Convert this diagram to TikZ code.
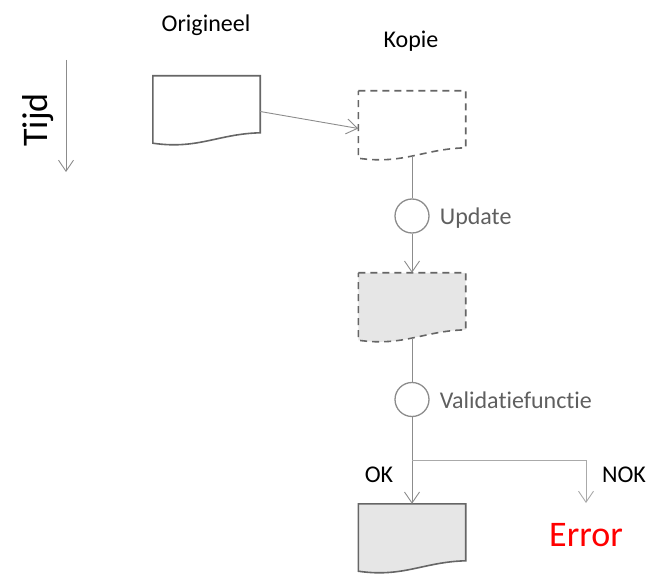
\documentclass[tikz,border=0pt]{standalone}
\usepackage{fontspec}
\setmainfont{Carlito}[Ligatures=NoCommon]
\usepackage{tikz}
\usetikzlibrary{arrows.meta,positioning,calc}

\definecolor{docgray}{RGB}{102,102,102}
\definecolor{linegray}{RGB}{140,140,140}
\definecolor{lightgray2}{RGB}{170,170,170}
\definecolor{fillgray}{RGB}{230,230,230}
\definecolor{textgray}{RGB}{95,95,95}

% outline of a document shape round a named node
\newcommand{\docpath}[1]{(#1.north west) -- (#1.north east) -- ([yshift=-57pt]#1.north east)
  .. controls ([xshift=-42pt,yshift=-58pt]#1.north east) and ([xshift=45pt,yshift=-74pt]#1.north west) .. (#1.south west) -- cycle}

\tikzset{
  docnode/.style={rectangle, inner sep=0pt, minimum width=107pt, minimum height=67pt},
  docline/.style={draw=docgray, line width=1.6pt},
  docdash/.style={docline, dash pattern=on 7pt off 5pt},
  funcnode/.style={circle, draw=linegray, line width=1.3pt, minimum size=34pt, inner sep=0pt},
  conn/.style={draw=linegray, line width=0.9pt},
  arr/.style={conn, -{Straight Barb[length=11pt,width=15pt,line width=0.9pt]}},
  lbl/.style={font=\fontsize{24pt}{28pt}\selectfont, inner sep=2pt},
}

\begin{document}
\begin{tikzpicture}[x=1pt,y=-1pt]
    \useasboundingbox (0,0) rectangle (662,580);

    % time axis
    \node[font=\fontsize{36pt}{40pt}\selectfont, rotate=90, inner sep=0pt] (tijd) at (38,120) {Tijd};
    \coordinate (tstart) at (66,60);
    \coordinate (tend) at (66,172);
    \draw[arr] (tstart) -- (tend);

    % documents
    \node[docnode] (orig) at (206.5,109.5) {};
    \node[docnode] (kopie) at (412,124.5) {};
    \node[docnode] (upddoc) at (412,306.5) {};
    \node[docnode] (result) at (412,537.5) {};
    \draw[docline] \docpath{orig};
    \draw[docdash] \docpath{kopie};
    \draw[docdash, fill=fillgray] \docpath{upddoc};
    \draw[docline, fill=fillgray] \docpath{result};

    \node[lbl] (origlbl) at (206,25) {Origineel};
    \node[lbl] (kopielbl) at (411,41) {Kopie};

    % functions
    \node[funcnode] (upd) at (412,216) {};
    \node[funcnode] (val) at (412,399.5) {};
    \node[lbl, text=textgray, right=8pt of upd, yshift=-2pt] (updlbl) {Update};
    \node[lbl, text=textgray, right=8pt of val, yshift=-1pt] (vallbl) {Validatiefunctie};

    % flow
    \draw[arr] ([yshift=-2pt]orig.east) -- ([yshift=-4pt]kopie.west);
    \draw[conn] ([yshift=2pt]kopie.south) -- (upd.north);
    \draw[arr] (upd.south) -- (upddoc.north);
    \draw[conn] ([yshift=2pt]upddoc.south) -- (val.north);
    \draw[arr] (val.south) -- (result.north);

    \coordinate (split) at (412,460);
    \coordinate (nokend) at (586,503);
    \draw[arr, draw=lightgray2] (split) -| (nokend);

    \node[lbl] (ok) at (379,475) {OK};
    \node[lbl] (nok) at (624,475) {NOK};
    \node[font=\fontsize{36pt}{40pt}\selectfont, text=red, inner sep=0pt] (error) at (586,535) {Error};
\end{tikzpicture}
\end{document}
